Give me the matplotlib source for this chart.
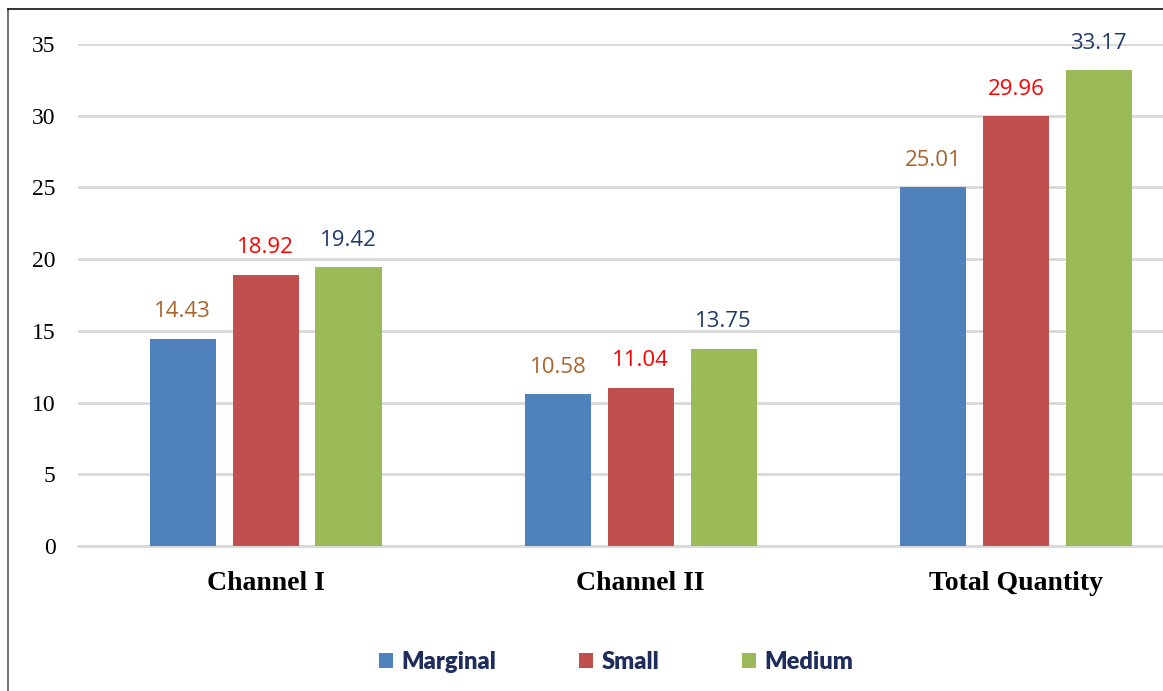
import matplotlib.pyplot as plt
import numpy as np
from matplotlib.lines import Line2D

# data
categories = ['Channel I', 'Channel II', 'Total Quantity']
series = ['Marginal', 'Small', 'Medium']
marginal = [14.43, 10.58, 25.01]
small = [18.92, 11.04, 29.96]
medium = [19.42, 13.75, 33.17]
y_ticks = [0, 5, 10, 15, 20, 25, 30, 35]

bar_colors = ['#4F81BD', '#C0504D', '#9BBB59']
label_colors = ['#A8642C', '#FF0000', '#1F3A6E']

W, H = 1163, 691
fig = plt.figure(figsize=(W / 100, H / 100), dpi=100)

# plot area runs past the right edge like the cropped original
left, right = 78, 1203.5
bottom, top = 546, 44
ax = fig.add_axes([left / W, 1 - bottom / H, (right - left) / W, (bottom - top) / H])

x = np.arange(len(categories))
width = 0.176
step = 0.221

for i, (name, vals) in enumerate(zip(series, [marginal, small, medium])):
    pos = x + (i - 1) * step
    bars = ax.bar(pos, vals, width=width, color=bar_colors[i], label=name, zorder=3)
    for b, v in zip(bars, vals):
        ax.annotate(f'{v:.2f}', (b.get_x() + b.get_width() / 2, v),
                    xytext=(0, 12), textcoords='offset points',
                    ha='center', va='bottom', fontsize=16,
                    family='Open Sans', color=label_colors[i])

ax.set_xlim(-0.5, 2.5)
ax.set_ylim(0, 35)
ax.set_yticks(y_ticks)
ax.set_yticklabels([str(t) for t in y_ticks], family='Liberation Serif', fontsize=17)
ax.set_xticks(x)
ax.set_xticklabels(categories, family='Liberation Serif', fontweight='bold', fontsize=20)
ax.tick_params(axis='y', length=0, pad=16)
ax.tick_params(axis='x', length=0, pad=18)

ax.grid(axis='y', color='#D9D9D9', linewidth=2, zorder=0)
for s in ['top', 'right', 'left']:
    ax.spines[s].set_visible(False)
ax.spines['bottom'].set_color('#D9D9D9')
ax.spines['bottom'].set_linewidth(2)

leg = fig.legend(loc='center', bbox_to_anchor=(616 / W, 1 - 662 / H), ncol=3,
                 frameon=False, handlelength=0.6, handleheight=0.6,
                 handletextpad=0.35, columnspacing=3.5,
                 prop={'family': 'Lato', 'weight': 'heavy', 'size': 17})
for t in leg.get_texts():
    t.set_color('#1F2D5C')

# outer border (left and top edges visible)
fig.add_artist(Line2D([8 / W, 8 / W], [0, 1 - 9 / H], color='#555555', linewidth=1.2))
fig.add_artist(Line2D([8 / W, 1], [1 - 9 / H, 1 - 9 / H], color='#111111', linewidth=1.2))

plt.savefig('out.png', dpi=100)
